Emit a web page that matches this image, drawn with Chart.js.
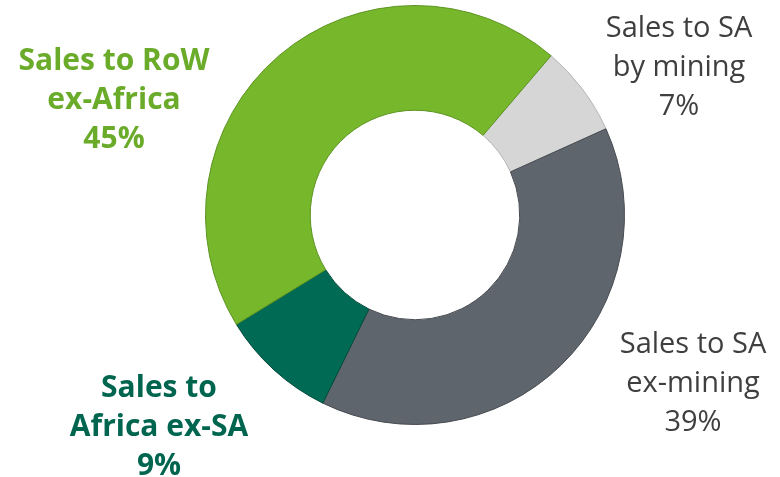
<!DOCTYPE html>
<html lang="en">
<head>
    <meta charset="UTF-8">
    <title>Sales split</title>
    <style>
        body { margin: 0; background: #ffffff; }
        .grafico-container { width: 780px; height: 477px; }
    </style>
</head>
<body>
    <div class="grafico-container">
        <canvas id="grafico" width="780" height="477"></canvas>
    </div>

    <script src="https://cdn.jsdelivr.net/npm/chart.js"></script>
    <script>
        // Data
        const categories = ['Sales to SA by mining', 'Sales to SA ex-mining', 'Sales to Africa ex-SA', 'Sales to RoW ex-Africa'];
        const shares = [7, 39, 9, 45];
        const sliceColors = ['#d6d6d6', '#5f656c', '#006a54', '#77b72b'];
        const edgeColors = ['#b4b4b4', '#464b51', '#004a3a', '#5b9420'];

        // Label text lines (text only) + where they sit
        const labelLines = [
            ['Sales to SA', 'by mining', '7%'],
            ['Sales to SA', 'ex-mining', '39%'],
            ['Sales to', 'Africa ex-SA', '9%'],
            ['Sales to RoW', 'ex-Africa', '45%']
        ];
        const labelStyle = [
            { x: 679, y: 37, color: '#3f3f3f', weight: 'normal', size: 29 },
            { x: 693, y: 353, color: '#3f3f3f', weight: 'normal', size: 29 },
            { x: 159, y: 397, color: '#00654f', weight: 'bold', size: 30 },
            { x: 114, y: 70, color: '#6aab2a', weight: 'bold', size: 30 }
        ];

        // Bevel-like shading: darker at the inner and outer rims
        function sliceFill(context) {
            const i = context.dataIndex;
            const arc = context.element;
            const area = context.chart.chartArea;
            if (!area || !arc || !arc.outerRadius) return sliceColors[i];
            const c = context.chart.ctx;
            const cx = (area.left + area.right) / 2;
            const cy = (area.top + area.bottom) / 2;
            const g = c.createRadialGradient(cx, cy, arc.innerRadius, cx, cy, arc.outerRadius);
            g.addColorStop(0, edgeColors[i]);
            g.addColorStop(0.06, sliceColors[i]);
            g.addColorStop(0.9, sliceColors[i]);
            g.addColorStop(0.96, sliceColors[i]);
            g.addColorStop(1, edgeColors[i]);
            return g;
        }

        const labelPlugin = {
            id: 'sliceLabels',
            afterDraw(chart) {
                const c = chart.ctx;
                c.save();
                c.textAlign = 'center';
                c.textBaseline = 'alphabetic';
                labelLines.forEach((lines, i) => {
                    const s = labelStyle[i];
                    c.fillStyle = s.color;
                    c.font = s.weight + ' ' + s.size + 'px "Open Sans", sans-serif';
                    lines.forEach((t, k) => c.fillText(t, s.x, s.y + k * 39));
                });
                c.restore();
            }
        };

        const ctx = document.getElementById('grafico').getContext('2d');
        new Chart(ctx, {
            type: 'doughnut',
            data: {
                labels: categories,
                datasets: [{
                    data: shares,
                    backgroundColor: sliceFill,
                    borderColor: edgeColors,
                    borderWidth: 1
                }]
            },
            options: {
                responsive: false,
                animation: false,
                rotation: 40.5,
                cutout: '50%',
                layout: { padding: { left: 205, right: 155, top: 5, bottom: 52 } },
                plugins: {
                    legend: { display: false },
                    tooltip: { enabled: false }
                }
            },
            plugins: [labelPlugin]
        });
    </script>
</body>
</html>
